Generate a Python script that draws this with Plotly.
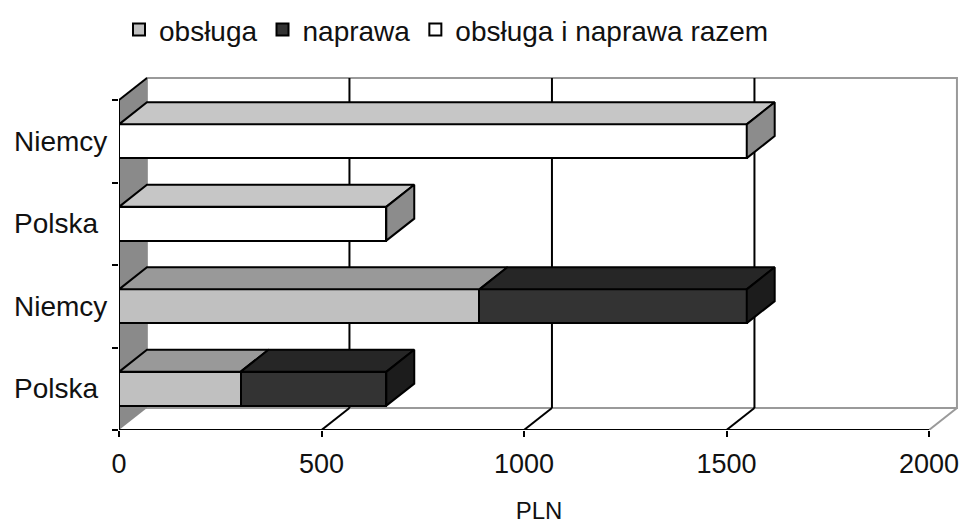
import plotly.graph_objects as go

# Koszty obsługi i naprawy (PLN)
categories = ["Polska", "Niemcy", "Polska", "Niemcy"]
obsluga = [300, 890, None, None]
naprawa = [360, 660, None, None]
razem = [None, None, 660, 1550]
x_ticks = [0, 500, 1000, 1500, 2000]

FONT = "Liberation Sans, Arial, sans-serif"

# front colours and shaded faces (top, side) of each series
styles = {
    "obsługa": dict(front="#c0c0c0", top="#999999", side="#808080"),
    "naprawa": dict(front="#333333", top="#262626", side="#1c1c1c"),
    "obsługa i naprawa razem": dict(front="#ffffff", top="#c6c6c6", side="#8c8c8c"),
}

BAR_W = 0.41          # bar thickness in category units
DX = 69               # perspective depth along the value axis
DY = 0.267            # perspective depth along the category axis
X_MAX = 2000
N = len(categories)
pos = [i + 0.5 for i in range(N)]

fig = go.Figure()

series = [("obsługa", obsluga), ("naprawa", naprawa), ("obsługa i naprawa razem", razem)]
for name, vals in series:
    st = styles[name]
    fig.add_trace(go.Bar(
        y=pos, x=vals, orientation="h", name=name, width=BAR_W,
        marker=dict(color=st["front"], line=dict(color="black", width=2)),
    ))

# segment extents along the stacked bars
segments = {name: [] for name, _ in series}
outer = []
for i in range(N):
    start = 0
    last = None
    for name, vals in series:
        v = vals[i]
        if v:
            segments[name].append((i, start, start + v))
            last = (name, i, start + v)
            start += v
    if last:
        outer.append(last)


def poly_trace(xs, ys, color):
    return go.Scatter(x=xs, y=ys, mode="lines", fill="toself", fillcolor=color,
                      line=dict(color="black", width=2), showlegend=False,
                      hoverinfo="skip")


# top faces
for name, segs in segments.items():
    xs, ys = [], []
    for i, x0, x1 in segs:
        yt = pos[i] + BAR_W / 2
        xs += [x0, x1, x1 + DX, x0 + DX, x0, None]
        ys += [yt, yt, yt + DY, yt + DY, yt, None]
    if xs:
        fig.add_trace(poly_trace(xs, ys, styles[name]["top"]))

# end (side) faces
for name, i, x1 in outer:
    yb, yt = pos[i] - BAR_W / 2, pos[i] + BAR_W / 2
    fig.add_trace(poly_trace([x1, x1, x1 + DX, x1 + DX, x1],
                             [yb, yt, yt + DY, yb + DY, yb], styles[name]["side"]))

shapes = []
# back wall
shapes.append(dict(type="rect", x0=DX, x1=X_MAX + DX, y0=DY, y1=N + DY,
                   fillcolor="white", line=dict(color="#9a9a9a", width=2), layer="below"))
# left wall
shapes.append(dict(type="path",
                   path=f"M 0 0 L {DX} {DY} L {DX} {N + DY} L 0 {N} Z",
                   fillcolor="#8a8a8a", line=dict(width=0), layer="below"))
shapes.append(dict(type="line", x0=0, y0=N, x1=DX, y1=N + DY,
                   line=dict(color="black", width=2), layer="below"))
# floor edge on the right
shapes.append(dict(type="line", x0=X_MAX, y0=0, x1=X_MAX + DX, y1=DY,
                   line=dict(color="#9a9a9a", width=2), layer="below"))
# gridlines on the wall and the floor
for v in x_ticks[1:-1]:
    shapes.append(dict(type="line", x0=v + DX, y0=DY, x1=v + DX, y1=N + DY,
                       line=dict(color="black", width=2), layer="below"))
    shapes.append(dict(type="line", x0=v, y0=0, x1=v + DX, y1=DY,
                       line=dict(color="black", width=2), layer="below"))
# axis lines
shapes.append(dict(type="line", x0=0, y0=0, x1=X_MAX, y1=0,
                   line=dict(color="black", width=2), layer="above"))
shapes.append(dict(type="line", x0=0, y0=0, x1=0, y1=N,
                   line=dict(color="black", width=2), layer="above"))

W, H = 963, 524
L, R, T, B = 119, 4, 75, 94
px_per_unit = 0.405
plot_w = W - L - R
x_range = [0, plot_w / px_per_unit]
y_range = [0, (H - T - B) / 82.5]

# left-aligned category labels
label_x = (12 - L) / plot_w
annotations = [
    dict(text=c, x=label_x, xref="paper", xanchor="left", y=p, yref="y",
         yanchor="middle", showarrow=False, font=dict(size=28, color="#111111"))
    for c, p in zip(categories, pos)
]

fig.update_layout(
    width=W, height=H,
    margin=dict(l=L, r=R, t=T, b=B),
    barmode="stack",
    paper_bgcolor="white", plot_bgcolor="white",
    font=dict(family=FONT, size=28, color="#111111"),
    shapes=shapes,
    annotations=annotations,
    showlegend=True,
    legend=dict(orientation="h", x=0.0, xanchor="left", y=1.127, yanchor="middle",
                font=dict(size=28), itemwidth=30, traceorder="normal",
                bgcolor="rgba(0,0,0,0)"),
    xaxis=dict(range=x_range, tickvals=x_ticks, ticks="outside", ticklen=6,
               tickwidth=2, tickcolor="black", showgrid=False, zeroline=False,
               showline=False, fixedrange=True, tickfont=dict(size=27),
               ticklabelstandoff=4,
               title=dict(text="PLN", font=dict(size=24), standoff=25)),
    yaxis=dict(range=y_range, tickvals=list(range(N + 1)), ticks="outside",
               ticklen=6, tickwidth=2, tickcolor="black", showticklabels=False,
               showgrid=False, zeroline=False, showline=False, fixedrange=True),
)

fig.write_html("out.html")
